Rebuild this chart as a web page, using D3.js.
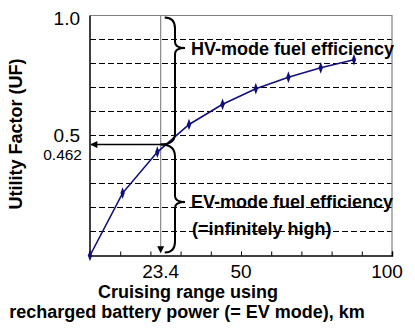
<!DOCTYPE html>
<html>
<head>
<meta charset="utf-8">
<script src="https://cdn.jsdelivr.net/npm/d3@7"></script>
<style>
  html, body { margin: 0; padding: 0; background: #fff; }
  svg { display: block; font-family: "Liberation Sans", Arial, sans-serif; }
</style>
</head>
<body>
<svg id="chart" width="415" height="328"></svg>
<script>
// Utility factor curve: cruising range on battery power (km) vs. UF
const rangeKm = [0, 10.8, 22.3, 32.8, 43.9, 54.9, 65.7, 76.4, 87.4];
const ufValues = [0, 0.26, 0.431, 0.546, 0.63, 0.695, 0.743, 0.782, 0.816];

// Highlighted operating point
const markRange = 23.4;
const markUF = 0.462;

// Axis ticks and labels
const xTickMarks = [10, 20, 30, 40, 50, 60, 70, 80, 90, 100];
const xTickLabels = [23.4, 50, 100];
const yGridValues = [0.1, 0.2, 0.3, 0.4, 0.5, 0.6, 0.7, 0.8, 0.9];
const yTickLabels = [1.0, 0.5];

const svg = d3.select("#chart");
const plotLeft = 90, plotRight = 392, plotTop = 15.5, plotBottom = 255.5;

const x = d3.scaleLinear().domain([0, 100]).range([plotLeft, plotRight]);
const y = d3.scaleLinear().domain([0, 1]).range([plotBottom, plotTop]);

// Arrowhead marker
const defs = svg.append("defs");
defs.append("marker")
  .attr("id", "arrowBlack")
  .attr("viewBox", "0 0 10 10")
  .attr("refX", 9).attr("refY", 5)
  .attr("markerWidth", 9).attr("markerHeight", 7)
  .attr("markerUnits", "userSpaceOnUse")
  .attr("orient", "auto")
  .append("path").attr("d", "M0,0 L10,5 L0,10 Z").attr("fill", "#000");

// Dashed horizontal grid
svg.append("g")
  .selectAll("line")
  .data(yGridValues)
  .join("line")
  .attr("x1", plotLeft).attr("x2", plotRight)
  .attr("y1", d => y(d)).attr("y2", d => y(d))
  .attr("stroke", "#000")
  .attr("stroke-width", 1)
  .attr("stroke-dasharray", "6,3");

// Frame: grey top and right edges
svg.append("path")
  .attr("d", `M${plotLeft},${y(1)} H${plotRight} V${plotBottom}`)
  .attr("fill", "none")
  .attr("stroke", "#808080")
  .attr("stroke-width", 1.2);

// X axis with inward tick marks
const xAxis = d3.axisBottom(x)
  .tickValues(xTickMarks)
  .tickSize(-4)
  .tickFormat("");
svg.append("g")
  .attr("transform", `translate(0,${plotBottom})`)
  .call(xAxis)
  .call(g => g.select(".domain").attr("stroke", "#000").attr("stroke-width", 1.5))
  .call(g => g.selectAll(".tick line").attr("stroke", "#000"));

// Y axis line
svg.append("line")
  .attr("x1", plotLeft).attr("x2", plotLeft)
  .attr("y1", y(1)).attr("y2", plotBottom)
  .attr("stroke", "#000").attr("stroke-width", 1.5);

// X tick labels
svg.append("g")
  .selectAll("text")
  .data(xTickLabels)
  .join("text")
  .attr("x", d => x(d) + (d === 100 ? -5 : 0))
  .attr("y", 278)
  .attr("text-anchor", "middle")
  .attr("font-size", 19)
  .attr("fill", "#000")
  .text(d => d === 23.4 ? "23.4" : d3.format("d")(d));

// Y tick labels
svg.append("g")
  .selectAll("text")
  .data(yTickLabels)
  .join("text")
  .attr("x", 80)
  .attr("y", d => y(d) + (d === 1 ? 9.5 : 6))
  .attr("text-anchor", "end")
  .attr("font-size", 19)
  .attr("fill", "#000")
  .text(d => d3.format(".1f")(d));

svg.append("text")
  .attr("x", 82)
  .attr("y", y(markUF) + 15.5)
  .attr("text-anchor", "end")
  .attr("font-size", 15.5)
  .attr("fill", "#000")
  .text(d3.format(".3f")(markUF));

// Vertical guide at the marked range, arrow pointing down
svg.append("line")
  .attr("x1", x(markRange)).attr("x2", x(markRange))
  .attr("y1", y(1)).attr("y2", plotBottom - 3)
  .attr("stroke", "#8a8a8a").attr("stroke-width", 1.2)
  .attr("marker-end", "url(#arrowBlack)");

// Horizontal arrow from the curve to the UF axis
svg.append("line")
  .attr("x1", x(markRange)).attr("x2", plotLeft + 1)
  .attr("y1", y(markUF)).attr("y2", y(markUF))
  .attr("stroke", "#000").attr("stroke-width", 1.5)
  .attr("marker-end", "url(#arrowBlack)");

// UF curve
const pts = rangeKm.map((r, i) => [r, ufValues[i]]);
svg.append("path")
  .datum(pts)
  .attr("d", d3.line().x(d => x(d[0])).y(d => y(d[1])))
  .attr("fill", "none")
  .attr("stroke", "#10107a")
  .attr("stroke-width", 1.6);

svg.append("g")
  .selectAll("path")
  .data(pts)
  .join("path")
  .attr("transform", d => `translate(${x(d[0])},${y(d[1])}) scale(0.9,1.4)`)
  .attr("d", d3.symbol(d3.symbolDiamond, 20))
  .attr("fill", "#10107a");

// Curly braces spanning the HV and EV shares of the UF axis
const xm = x(markRange), ym = y(markUF);
svg.append("path")
  .attr("d", `M${xm + 4},${y(1) + 2} Q175,${y(1) + 2} 175,${y(1) + 13}` +
             ` L175,42 Q175,48 185,48 Q175,48 175,54 L175,${ym - 11}` +
             ` Q175,${ym} ${xm},${ym}`)
  .attr("fill", "none").attr("stroke", "#000").attr("stroke-width", 2);
svg.append("path")
  .attr("d", `M${xm},${ym} Q175,${ym} 175,${ym + 12}` +
             ` L175,196 Q175,202 185,202 Q175,202 175,208 L175,${plotBottom - 14}` +
             ` Q175,${plotBottom - 3} ${xm + 4},${plotBottom - 3}`)
  .attr("fill", "none").attr("stroke", "#000").attr("stroke-width", 2);

// Annotation texts
const notes = [
  { text: "HV-mode fuel efficiency", x: 191, y: 55 },
  { text: "EV-mode fuel efficiency", x: 191, y: 208 },
  { text: "(=infinitely high)", x: 192, y: 235 }
];
svg.append("g")
  .selectAll("text")
  .data(notes)
  .join("text")
  .attr("x", d => d.x).attr("y", d => d.y)
  .attr("font-size", 18).attr("font-weight", "bold")
  .attr("fill", "#000")
  .text(d => d.text);

// Axis titles
svg.append("text")
  .attr("transform", "translate(16,134) rotate(-90)")
  .attr("text-anchor", "middle")
  .attr("dy", "0.35em")
  .attr("font-size", 18).attr("font-weight", "bold")
  .text("Utility Factor (UF)");

svg.append("text")
  .attr("x", 188).attr("y", 298)
  .attr("text-anchor", "middle")
  .attr("font-size", 18).attr("font-weight", "bold")
  .text("Cruising range using");
svg.append("text")
  .attr("x", 187).attr("y", 318)
  .attr("text-anchor", "middle")
  .attr("font-size", 18).attr("font-weight", "bold")
  .text("recharged battery power (= EV mode), km");
</script>
</body>
</html>
